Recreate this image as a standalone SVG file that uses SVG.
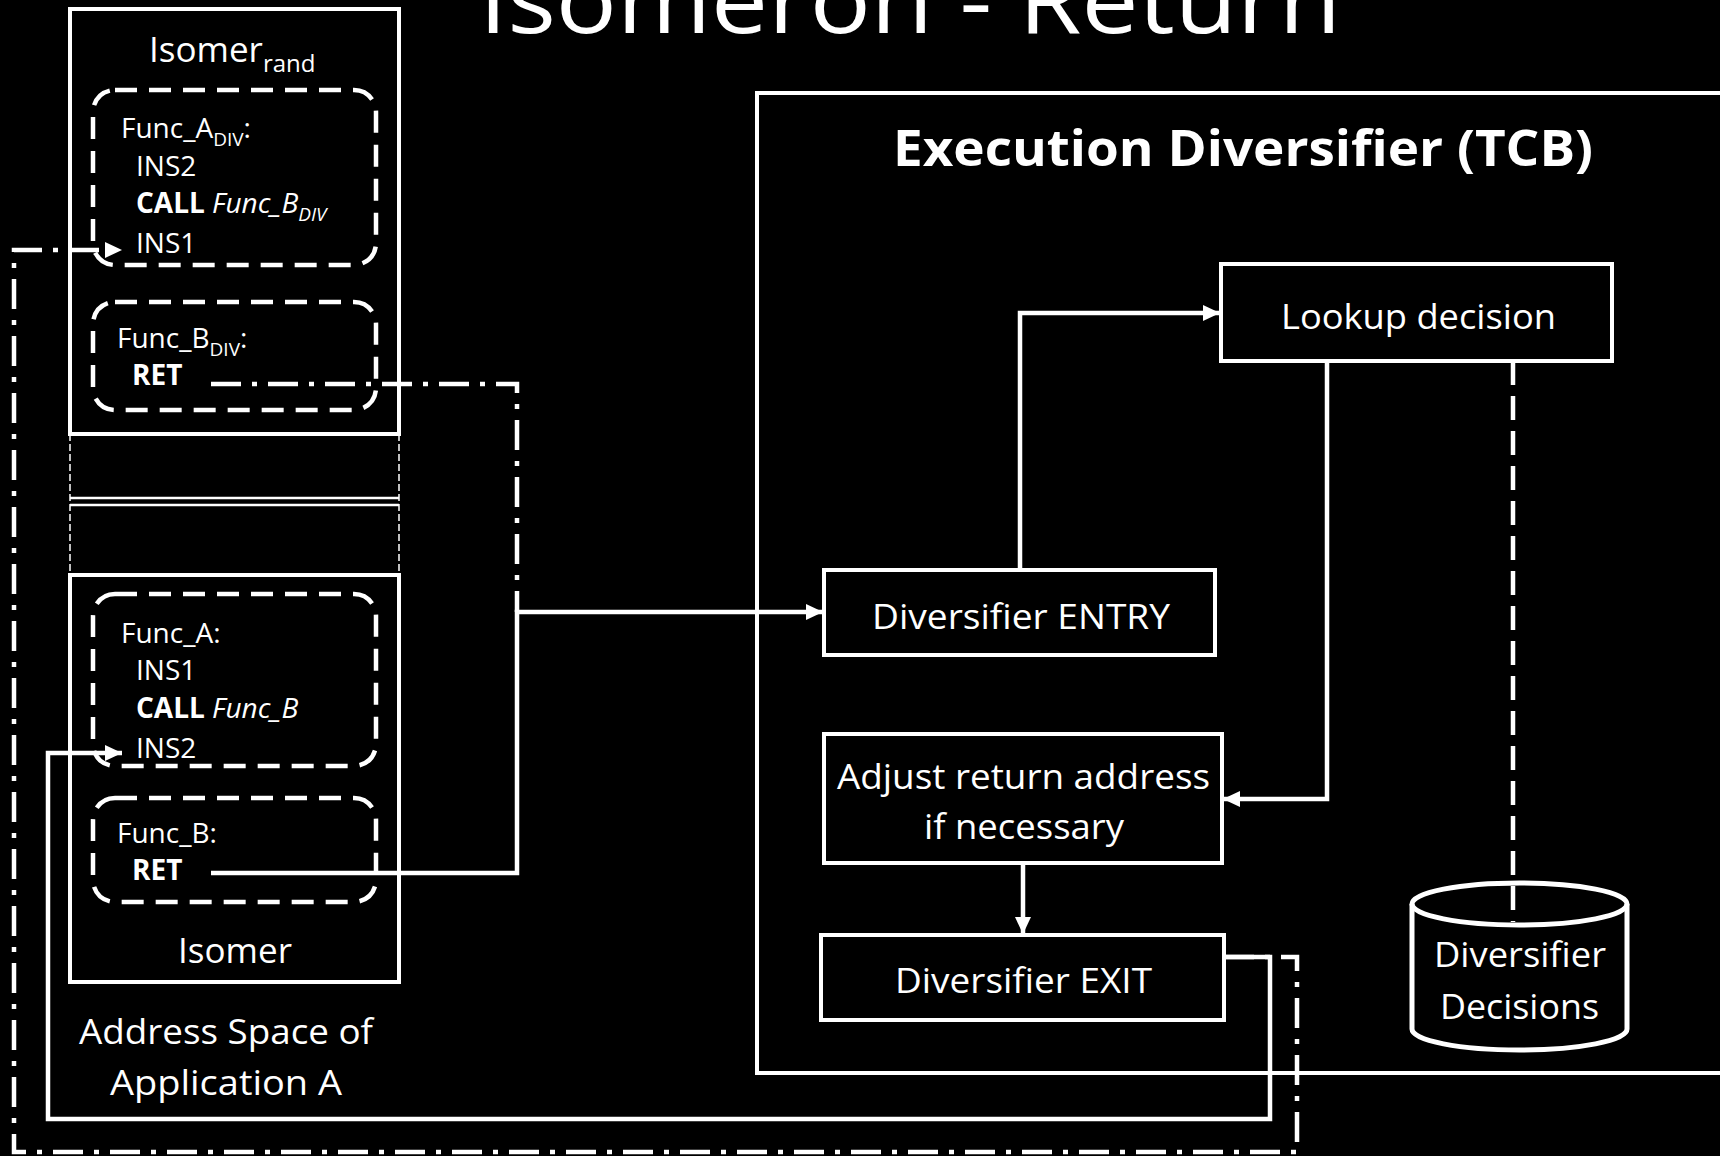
<svg xmlns="http://www.w3.org/2000/svg" width="1720" height="1156" viewBox="0 0 1720 1156">
<defs>
<style>
text{font-family:"Open Sans","Noto Sans","Liberation Sans",sans-serif;fill:#fff}
.box{fill:#000;stroke:#fff;stroke-width:4}
.func{fill:none;stroke:#fff;stroke-width:4.5;stroke-dasharray:22 12}
.thin{fill:none;stroke:#fff;stroke-width:1.5;stroke-dasharray:7 3}
.solid{fill:none;stroke:#fff;stroke-width:4.5}
.dashdot{fill:none;stroke:#fff;stroke-width:4.5;stroke-dasharray:30 11 5 11}
.dash{fill:none;stroke:#fff;stroke-width:4.5;stroke-dasharray:24 11}
.code{font-size:28px}
.lbl{font-size:35px}
.b{font-weight:bold}
.i{font-style:italic}
</style>
<marker id="ah" markerUnits="userSpaceOnUse" markerWidth="18" markerHeight="18" refX="17" refY="9" orient="auto">
<path d="M0,1 L17,9 L0,17 z" fill="#fff"/>
</marker>
</defs>
<rect width="1720" height="1156" fill="#000"/>
<text x="479" y="33" font-size="92" textLength="862" lengthAdjust="spacingAndGlyphs">Isomeron - Return</text>

<g id="isomer-rand">
<rect class="box" x="70" y="9" width="329" height="425"/>
<text x="149" y="62" font-size="35">Isomer<tspan font-size="24" dy="10">rand</tspan></text>
</g>
<g id="func-a-div">
<rect class="func" x="93" y="90" width="283" height="175" rx="22"/>
<text class="code" x="121" y="138">Func_A<tspan font-size="19" dy="8">DIV</tspan><tspan dy="-8">:</tspan></text>
<text class="code" x="136" y="176">INS2</text>
<text class="code" x="136" y="213"><tspan class="b">CALL</tspan> <tspan class="i">Func_B</tspan><tspan class="i" font-size="19" dy="8">DIV</tspan></text>
<text class="code" x="136" y="253">INS1</text>
</g>
<g id="func-b-div">
<rect class="func" x="93" y="302" width="283" height="108" rx="22"/>
<text class="code" x="117" y="348">Func_B<tspan font-size="19" dy="8">DIV</tspan><tspan dy="-8">:</tspan></text>
<text class="code b" x="132" y="385">RET</text>
</g>
<g id="gap">
<line class="thin" x1="70" y1="434" x2="70" y2="575"/>
<line class="thin" x1="399" y1="434" x2="399" y2="575"/>
<line x1="70" y1="498" x2="399" y2="498" stroke="#fff" stroke-width="2.5"/>
<line x1="70" y1="505" x2="399" y2="505" stroke="#fff" stroke-width="2.5"/>
</g>
<g id="isomer">
<rect class="box" x="70" y="575" width="329" height="407"/>
<text x="235" y="963" font-size="35" text-anchor="middle">Isomer</text>
</g>
<g id="func-a">
<rect class="func" x="93" y="594" width="283" height="172" rx="22"/>
<text class="code" x="121" y="643">Func_A:</text>
<text class="code" x="136" y="680">INS1</text>
<text class="code" x="136" y="718"><tspan class="b">CALL</tspan> <tspan class="i">Func_B</tspan></text>
<text class="code" x="136" y="758">INS2</text>
</g>
<g id="func-b">
<rect class="func" x="93" y="798" width="283" height="104" rx="22"/>
<text class="code" x="117" y="843">Func_B:</text>
<text class="code b" x="132" y="880">RET</text>
</g>
<g id="address-space">
<text x="226" y="1044" font-size="35" text-anchor="middle" textLength="294" lengthAdjust="spacingAndGlyphs">Address Space of</text>
<text x="226" y="1095" font-size="35" text-anchor="middle" textLength="232" lengthAdjust="spacingAndGlyphs">Application A</text>
</g>

<g id="tcb">
<rect class="box" x="757" y="93" width="980" height="980"/>
<text x="893" y="166" font-size="50" class="b" textLength="700" lengthAdjust="spacingAndGlyphs">Execution Diversifier (TCB)</text>
</g>
<g id="lookup">
<rect class="box" x="1221" y="264" width="391" height="97"/>
<text class="lbl" x="1281" y="329" textLength="275" lengthAdjust="spacingAndGlyphs">Lookup decision</text>
</g>
<g id="entry">
<rect class="box" x="824" y="570" width="391" height="85"/>
<text class="lbl" x="872" y="629" textLength="298" lengthAdjust="spacingAndGlyphs">Diversifier ENTRY</text>
</g>
<g id="adjust">
<rect class="box" x="824" y="734" width="398" height="129"/>
<text class="lbl" x="837" y="789" textLength="373" lengthAdjust="spacingAndGlyphs">Adjust return address</text>
<text class="lbl" x="924" y="839" textLength="200" lengthAdjust="spacingAndGlyphs">if necessary</text>
</g>
<g id="exit">
<rect class="box" x="821" y="935" width="403" height="85"/>
<text class="lbl" x="895" y="993" textLength="257" lengthAdjust="spacingAndGlyphs">Diversifier EXIT</text>
</g>
<g id="decisions">
<path d="M1412,904 A107.5,21 0 0 1 1627,904 V1029 A107.5,21 0 0 1 1412,1029 Z" fill="#000" stroke="#fff" stroke-width="5"/>
<path d="M1412,904 A107.5,21 0 0 0 1627,904" fill="none" stroke="#fff" stroke-width="5"/>
<text class="lbl" x="1434" y="967" textLength="172" lengthAdjust="spacingAndGlyphs">Diversifier</text>
<text class="lbl" x="1440" y="1019" textLength="159" lengthAdjust="spacingAndGlyphs">Decisions</text>
</g>

<g id="connectors">
<path class="dashdot" d="M211,384 H517 V612"/>
<path class="solid" d="M211,873 H517 V612 H823" marker-end="url(#ah)"/>
<path class="solid" d="M1020,570 V313 H1220" marker-end="url(#ah)"/>
<path class="solid" d="M1327,361 V799 H1223" marker-end="url(#ah)"/>
<path class="solid" d="M1023,863 V934" marker-end="url(#ah)"/>
<path class="dash" d="M1513,361 V922"/>
<path class="solid" d="M1224,957 H1270 V1119 H48 V753 H122" marker-end="url(#ah)"/>
<path class="dashdot" d="M1224,957 H1297 V1152 H14 V250 H122" marker-end="url(#ah)"/>
</g>
</svg>
